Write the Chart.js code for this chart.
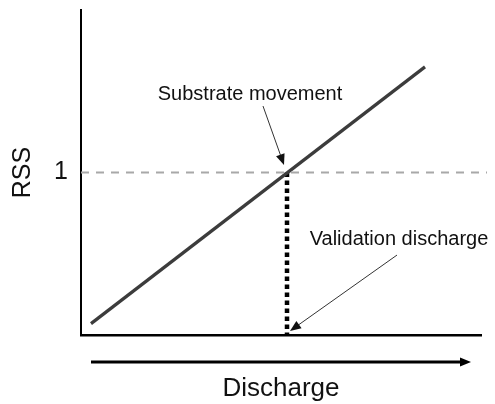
<!DOCTYPE html>
<html>
<head>
<meta charset="utf-8">
<script src="https://cdn.jsdelivr.net/npm/chart.js@4/dist/chart.umd.min.js"></script>
<style>
  html, body { margin: 0; padding: 0; background: #ffffff; }
  canvas { display: block; }
</style>
</head>
<body>
<canvas id="c" width="495" height="404"></canvas>
<script>
// ---- data ----
const relationDischarge = [2.5, 86];
const relationRSS = [0.07, 1.65];
const thresholdDischarge = [0, 101.5];
const thresholdRSS = [1, 1];
const validationDischarge = [51.5, 51.5];
const validationRSS = [1, 0];
const yTickValues = [1];
const yTickLabels = ['1'];
const xAxisTitle = 'Discharge';
const yAxisTitle = 'RSS';
const noteTexts = ['Substrate movement', 'Validation discharge'];
const noteX = [42.25, 79.5];
const noteY = [1.483, 0.59];
const noteArrowFromX = [45.5, 79];
const noteArrowFromY = [1.409, 0.492];
const noteArrowToX = [50.75, 52.25];
const noteArrowToY = [1.046, 0.025];
const dischargeArrowX = [2.5, 97.5];
const dischargeArrowY = -0.166;

const pts = (xs, ys) => xs.map((x, i) => ({x: x, y: ys[i]}));
const FONT = "'Liberation Sans', Arial, Helvetica, sans-serif";

function arrowHead(ctx, x1, y1, x2, y2, len, half) {
  const a = Math.atan2(y2 - y1, x2 - x1);
  ctx.beginPath();
  ctx.moveTo(x2, y2);
  ctx.lineTo(x2 - len * Math.cos(a) + half * Math.sin(a), y2 - len * Math.sin(a) - half * Math.cos(a));
  ctx.lineTo(x2 - len * Math.cos(a) - half * Math.sin(a), y2 - len * Math.sin(a) + half * Math.cos(a));
  ctx.closePath();
  ctx.fill();
}

const annotate = {
  id: 'annotate',
  afterDatasetsDraw(chart) {
    const ctx = chart.ctx;
    const xs = chart.scales.x, ys = chart.scales.y;
    ctx.save();
    ctx.font = '20px ' + FONT;
    ctx.fillStyle = '#111111';
    ctx.textAlign = 'center';
    ctx.textBaseline = 'middle';
    noteTexts.forEach((t, i) => {
      ctx.fillText(t, xs.getPixelForValue(noteX[i]), ys.getPixelForValue(noteY[i]));
    });
    ctx.strokeStyle = '#333333';
    ctx.fillStyle = '#111111';
    ctx.lineWidth = 1;
    noteTexts.forEach((t, i) => {
      const x1 = xs.getPixelForValue(noteArrowFromX[i]);
      const y1 = ys.getPixelForValue(noteArrowFromY[i]);
      const x2 = xs.getPixelForValue(noteArrowToX[i]);
      const y2 = ys.getPixelForValue(noteArrowToY[i]);
      const a = Math.atan2(y2 - y1, x2 - x1);
      ctx.beginPath();
      ctx.moveTo(x1, y1);
      ctx.lineTo(x2 - 8 * Math.cos(a), y2 - 8 * Math.sin(a));
      ctx.stroke();
      arrowHead(ctx, x1, y1, x2, y2, 11, 4.5);
    });
    const ax1 = xs.getPixelForValue(dischargeArrowX[0]);
    const ax2 = xs.getPixelForValue(dischargeArrowX[1]);
    const ay = ys.getPixelForValue(dischargeArrowY);
    ctx.strokeStyle = '#000000';
    ctx.fillStyle = '#000000';
    ctx.lineWidth = 2.8;
    ctx.beginPath();
    ctx.moveTo(ax1, ay);
    ctx.lineTo(ax2 - 8, ay);
    ctx.stroke();
    arrowHead(ctx, ax1, ay, ax2, ay, 11, 4.5);
    ctx.restore();
  }
};

new Chart(document.getElementById('c'), {
  type: 'scatter',
  data: {
    datasets: [
      {
        data: pts(thresholdDischarge, thresholdRSS),
        showLine: true,
        borderColor: '#a8a8a8',
        borderWidth: 1.8,
        borderDash: [8, 7],
        pointRadius: 0,
        clip: false
      },
      {
        data: pts(relationDischarge, relationRSS),
        showLine: true,
        borderColor: '#3c3c3c',
        borderWidth: 3.2,
        pointRadius: 0
      },
      {
        data: pts(validationDischarge, validationRSS),
        showLine: true,
        borderColor: '#000000',
        borderWidth: 4.5,
        borderDash: [4.5, 3.5],
        borderCapStyle: 'butt',
        pointRadius: 0
      }
    ]
  },
  options: {
    responsive: false,
    devicePixelRatio: 1,
    animation: false,
    events: [],
    layout: { padding: { top: 10, right: 14, bottom: 0, left: 0 } },
    plugins: { legend: { display: false }, tooltip: { enabled: false }, title: { display: false } },
    scales: {
      x: {
        type: 'linear',
        min: 0,
        max: 100,
        grid: { display: false, drawTicks: false },
        border: { display: true, color: '#000000', width: 2.5 },
        ticks: { display: false },
        title: {
          display: true,
          text: xAxisTitle,
          color: '#111111',
          font: { family: FONT, size: 26 },
          padding: { top: 0, bottom: 0 }
        },
        afterFit(scale) { scale.height = 69; scale.paddingLeft = 0; scale.paddingRight = 0; }
      },
      y: {
        type: 'linear',
        min: 0,
        max: 2,
        grid: { display: false, drawTicks: false },
        border: { display: true, color: '#000000', width: 2 },
        afterBuildTicks(scale) { scale.ticks = yTickValues.map(v => ({value: v})); },
        ticks: {
          color: '#111111',
          padding: 13,
          font: { family: FONT, size: 25 },
          callback(value) {
            const i = yTickValues.indexOf(value);
            return i >= 0 ? yTickLabels[i] : '';
          }
        },
        title: {
          display: true,
          text: yAxisTitle,
          color: '#111111',
          font: { family: FONT, size: 25 },
          padding: { top: 8, bottom: 0 }
        },
        afterFit(scale) { scale.width = 81; scale.paddingTop = 0; scale.paddingBottom = 0; }
      }
    }
  },
  plugins: [annotate]
});
</script>
</body>
</html>
